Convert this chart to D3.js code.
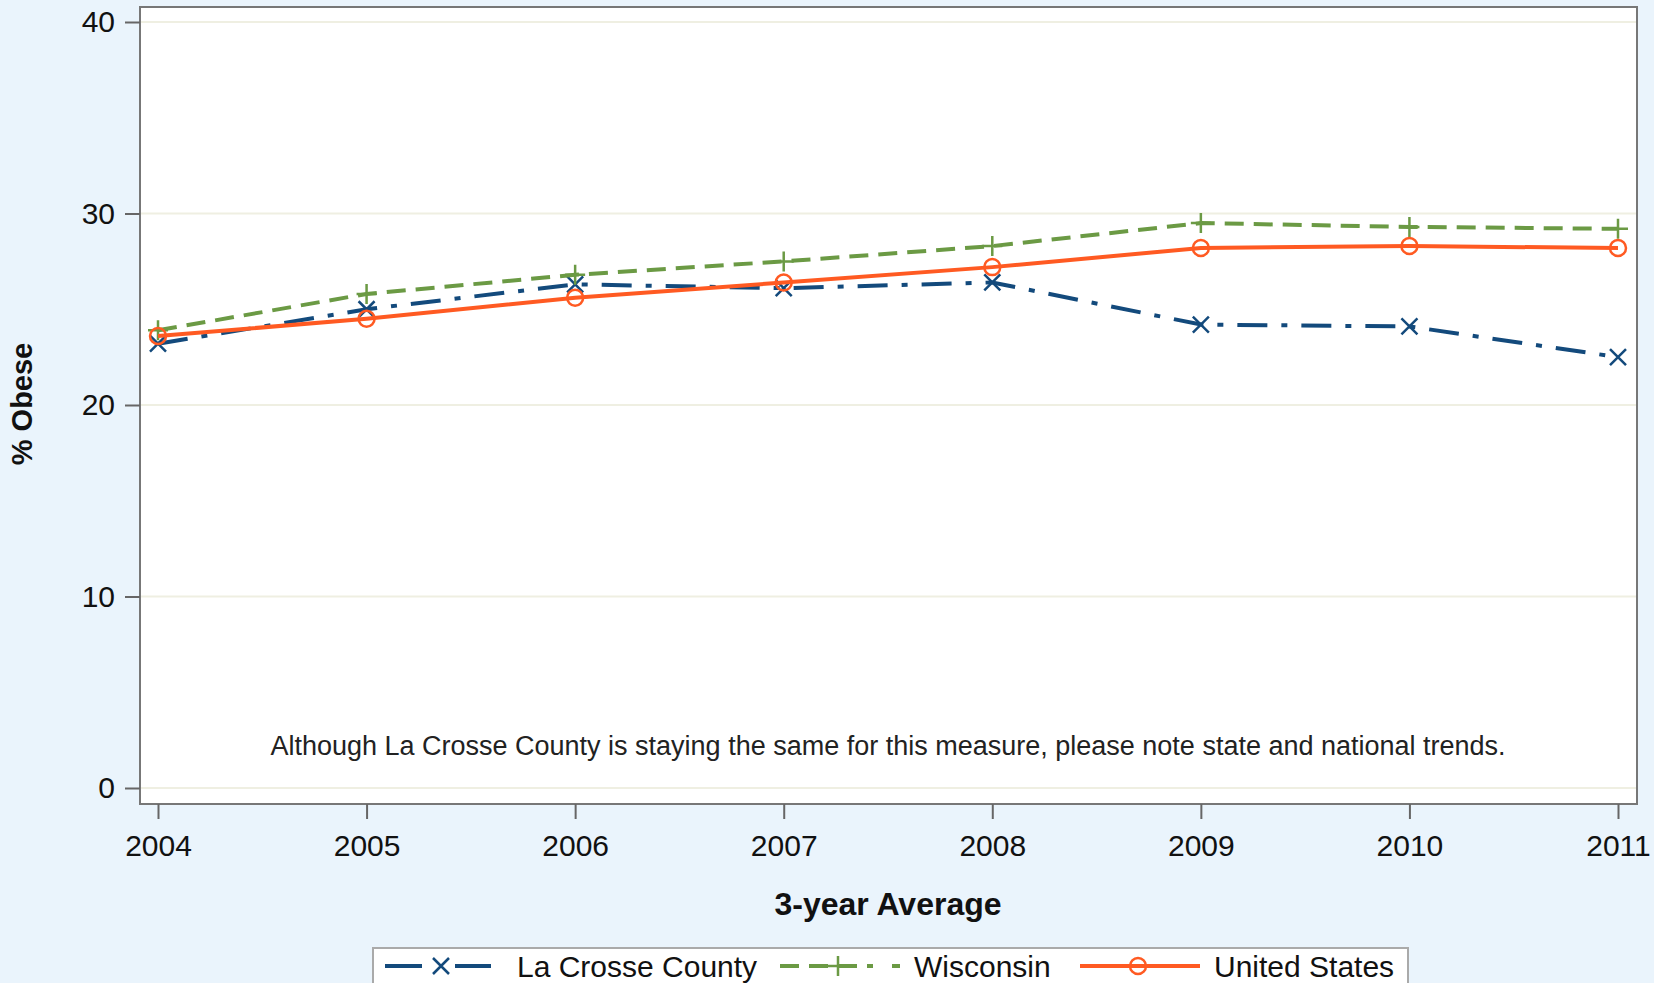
<!DOCTYPE html>
<html>
<head>
<meta charset="utf-8">
<script src="https://cdn.jsdelivr.net/npm/d3@7"></script>
<style>
  body { margin: 0; background: #eaf4fc; }
  svg { display: block; font-family: Arial, "Liberation Sans", sans-serif; }
  .axis text { fill: #111; }
</style>
</head>
<body>
<svg id="chart"></svg>
<script>
// Data
const years = [2004, 2005, 2006, 2007, 2008, 2009, 2010, 2011];
const laCrosse = [23.2, 25.0, 26.3, 26.1, 26.4, 24.2, 24.1, 22.5];
const wisconsin = [23.9, 25.8, 26.8, 27.5, 28.3, 29.5, 29.3, 29.2];
const unitedStates = [23.6, 24.5, 25.6, 26.4, 27.2, 28.2, 28.3, 28.2];
const yTicks = [0, 10, 20, 30, 40];
const seriesNames = ['La Crosse County', 'Wisconsin', 'United States'];
const note = 'Although La Crosse County is staying the same for this measure, please note state and national trends.';

const width = 1654, height = 983;

const series = [
  {name: seriesNames[0], values: laCrosse, color: '#134a7c', dash: '30,14,6,14', marker: 'x'},
  {name: seriesNames[1], values: wisconsin, color: '#6b9a44', dash: '19,10', marker: 'plus'},
  {name: seriesNames[2], values: unitedStates, color: '#ff5a22', dash: null, marker: 'circle'}
];

const svg = d3.select('#chart')
    .attr('width', width)
    .attr('height', height);

// frame of the plot area
const frame = {left: 140, top: 7, right: 1637, bottom: 804};

const xScale = d3.scaleLinear()
    .domain([2004, 2011])
    .range([158, 1618]);

const yScale = d3.scaleLinear()
    .domain([0, 40])
    .range([788, 22]);

svg.append('rect')
    .attr('x', frame.left)
    .attr('y', frame.top)
    .attr('width', frame.right - frame.left)
    .attr('height', frame.bottom - frame.top)
    .attr('fill', '#fff');

// gridlines
svg.append('g')
    .selectAll('line')
    .data(yTicks)
    .join('line')
    .attr('x1', frame.left)
    .attr('x2', frame.right)
    .attr('y1', d => yScale(d))
    .attr('y2', d => yScale(d))
    .attr('stroke', '#efefe2')
    .attr('stroke-width', 2);

svg.append('rect')
    .attr('x', frame.left)
    .attr('y', frame.top)
    .attr('width', frame.right - frame.left)
    .attr('height', frame.bottom - frame.top)
    .attr('fill', 'none')
    .attr('stroke', '#777')
    .attr('stroke-width', 2);

// axes
const yAxis = d3.axisLeft(yScale)
    .tickValues(yTicks)
    .tickSize(15)
    .tickPadding(10)
    .tickSizeOuter(0);

const xAxis = d3.axisBottom(xScale)
    .tickValues(years)
    .tickFormat(d3.format('d'))
    .tickSize(15)
    .tickPadding(16)
    .tickSizeOuter(0);

const yAxisG = svg.append('g')
    .attr('class', 'axis')
    .attr('transform', `translate(${frame.left},0)`)
    .call(yAxis);

const xAxisG = svg.append('g')
    .attr('class', 'axis')
    .attr('transform', `translate(0,${frame.bottom})`)
    .call(xAxis);

[yAxisG, xAxisG].forEach(g => {
  g.select('.domain').remove();
  g.selectAll('.tick line').attr('stroke', '#666').attr('stroke-width', 2);
  g.selectAll('.tick text').attr('font-size', 30);
});

// axis titles
svg.append('text')
    .attr('x', 888)
    .attr('y', 915)
    .attr('text-anchor', 'middle')
    .attr('font-size', 32)
    .attr('font-weight', 'bold')
    .attr('fill', '#111')
    .text('3-year Average');

svg.append('text')
    .attr('transform', 'translate(32,404) rotate(-90)')
    .attr('text-anchor', 'middle')
    .attr('font-size', 29)
    .attr('font-weight', 'bold')
    .attr('fill', '#111')
    .text('% Obese');

// note inside the plot
svg.append('text')
    .attr('x', 888)
    .attr('y', 755)
    .attr('text-anchor', 'middle')
    .attr('font-size', 27)
    .attr('fill', '#222')
    .text(note);

// markers
function drawMarker(g, type, color) {
  if (type === 'x') {
    g.append('path').attr('d', 'M-8,-8L8,8M-8,8L8,-8')
        .attr('stroke', color).attr('stroke-width', 2.5).attr('fill', 'none');
  } else if (type === 'plus') {
    g.append('path').attr('d', 'M-10,0L10,0M0,-10L0,10')
        .attr('stroke', color).attr('stroke-width', 2.5).attr('fill', 'none');
  } else {
    g.append('circle').attr('r', 8)
        .attr('stroke', color).attr('stroke-width', 2.5).attr('fill', 'none');
  }
}

const line = d3.line()
    .x(d => xScale(d.year))
    .y(d => yScale(d.value));

series.forEach(s => {
  const pts = years.map((y, i) => ({year: y, value: s.values[i]}));
  svg.append('path')
      .datum(pts)
      .attr('d', line)
      .attr('fill', 'none')
      .attr('stroke', s.color)
      .attr('stroke-width', 4)
      .attr('stroke-dasharray', s.dash);

  svg.append('g')
      .selectAll('g')
      .data(pts)
      .join('g')
      .attr('transform', d => `translate(${xScale(d.year)},${yScale(d.value)})`)
      .each(function() { drawMarker(d3.select(this), s.marker, s.color); });
});

// legend
const legend = svg.append('g');
legend.append('rect')
    .attr('x', 373)
    .attr('y', 948)
    .attr('width', 1035)
    .attr('height', 50)
    .attr('fill', '#fff')
    .attr('stroke', '#aaa')
    .attr('stroke-width', 2);

const legendX = [385, 780, 1080];
const legendLen = [106, 120, 120];
const legendMark = [56, 58, 58];
const legendDash = ['37,33,37', '19,10,19,10,19,10,6', null];
series.forEach((s, i) => {
  const g = legend.append('g').attr('transform', `translate(${legendX[i]},966)`);
  g.append('line')
      .attr('x1', 0).attr('x2', legendLen[i])
      .attr('stroke', s.color)
      .attr('stroke-width', 4)
      .attr('stroke-dasharray', legendDash[i]);
  const m = g.append('g').attr('transform', `translate(${legendMark[i]},0)`);
  drawMarker(m, s.marker, s.color);
  g.append('text')
      .attr('x', i === 0 ? 132 : 134)
      .attr('y', 11)
      .attr('font-size', 30)
      .attr('fill', '#111')
      .text(s.name);
});
</script>
</body>
</html>
